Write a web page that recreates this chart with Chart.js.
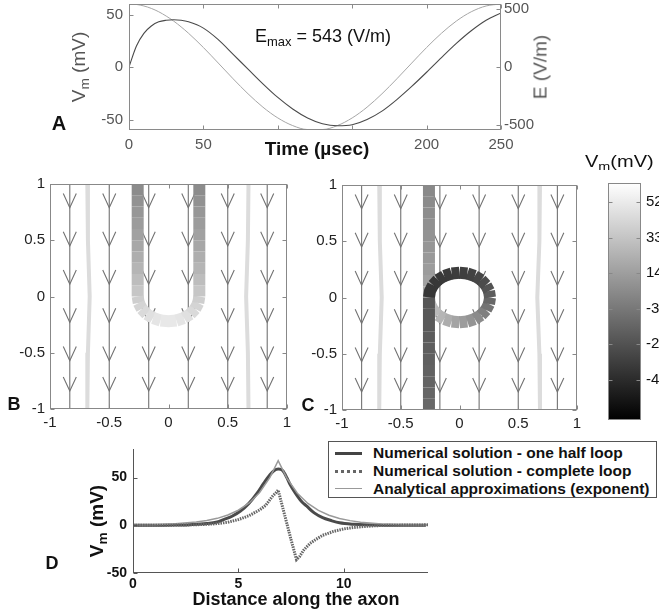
<!DOCTYPE html>
<html><head><meta charset="utf-8">
<script src="https://cdn.jsdelivr.net/npm/chart.js@4.4.1/dist/chart.umd.min.js"></script>
<style>
html,body{margin:0;padding:0;width:659px;height:614px;overflow:hidden;background:#fff;font-family:"Liberation Sans",Arial,Helvetica,sans-serif;}
canvas{position:absolute;}
.t{position:absolute;white-space:nowrap;line-height:1;color:#111;}
.c{transform:translate(-50%,-50%);}
.r{transform:translate(-50%,-50%) rotate(-90deg);}
.b{font-weight:bold;}
.sub{font-size:0.72em;vertical-align:-0.3em;}
#legend{position:absolute;left:328px;top:441px;width:327px;height:55px;border:1px solid #555;background:#fff;}
.lrow{position:absolute;left:0;width:100%;height:18px;}
.lsam{position:absolute;left:6px;width:27px;top:50%;}
.ltxt{position:absolute;left:44px;top:50%;transform:translateY(-50%);font-weight:bold;font-size:15.5px;white-space:nowrap;color:#111;}
</style></head><body>
<canvas id="cA" width="659" height="185" style="left:0;top:-20px"></canvas>
<canvas id="cB" width="300" height="290" style="left:0;top:150px"></canvas>
<canvas id="cC" width="300" height="290" style="left:300px;top:150px"></canvas>
<canvas id="cCB" width="160" height="290" style="left:560px;top:150px"></canvas>
<canvas id="cD" width="420" height="184" style="left:40px;top:430px"></canvas>

<div class="t c b" style="left:59px;top:123px;font-size:20px">A</div>
<div class="t r" style="left:80px;top:67px;font-size:19px;color:#555">V<span class="sub">m</span> (mV)</div>
<div class="t r" style="left:540px;top:67px;font-size:19px;color:#555">E (V/m)</div>
<div class="t" style="left:255px;top:27px;font-size:18px">E<span class="sub">max</span> = 543 (V/m)</div>
<div class="t c b" style="left:317px;top:148px;font-size:19px">Time (µsec)</div>
<div class="t" style="left:585px;top:154px;font-size:16px;transform:scaleX(1.25);transform-origin:left center">V<span class="sub">m</span>(mV)</div>
<div class="t c b" style="left:14px;top:404px;font-size:18px">B</div>
<div class="t c b" style="left:308px;top:405px;font-size:18px">C</div>
<div class="t c b" style="left:52px;top:563px;font-size:18px">D</div>
<div class="t r b" style="left:98px;top:521px;font-size:19px">V<span class="sub">m</span> (mV)</div>
<div class="t c b" style="left:296px;top:599px;font-size:18px">Distance along the axon</div>

<div id="legend">
  <div class="lrow" style="top:2px"><div class="lsam" style="border-top:3px solid #444;margin-top:-1.5px"></div><div class="ltxt">Numerical solution - one half loop</div></div>
  <div class="lrow" style="top:20px"><div class="lsam" style="border-top:3px dotted #666;margin-top:-1.5px"></div><div class="ltxt">Numerical solution - complete loop</div></div>
  <div class="lrow" style="top:38px"><div class="lsam" style="border-top:1.5px solid #999;margin-top:-0.75px"></div><div class="ltxt">Analytical approximations (exponent)</div></div>
</div>

<script>
// ---------------- Panel A data ----------------
const timeA   = [0,5,10,15,20,25,30,35,40,50,60,70,80,90,100,110,120,130,140,150,160,170,180,190,200,210,220,230,240,250];
const vmA     = [0,20,32,39,43,44.5,45,44.5,43,37,26,12,-2,-16,-29,-40,-48.5,-54,-56,-55,-50,-42,-31,-18.5,-5,9,22.5,34.5,44.5,51.5];
const eFieldA = [543,539,526,505,476,439,396,346,291,168,34,-102,-231,-346,-439,-505,-539,-539,-505,-439,-346,-231,-102,34,168,291,396,476,526,543];
const aXTicks = [0,50,100,150,200,250];
const aXHiddenLabels = [100,150];
const aVmTicks = [-50,0,50];
const aETicks = [-500,0,500];
const aVmRange = [-60,60];
const aERange = [-543,543];

// ---------------- Panels B / C data ----------------
const bcTicks = [-1,-0.5,0,0.5,1];
const arrowX = [-0.833,-0.5,-0.167,0.167,0.5,0.833];
const arrowTipY = [0.79,0.45,0.11,-0.23,-0.57,-0.84];
const contourY = [1,0.5,0,-0.5,-1];
const bContourLX = [-0.685,-0.68,-0.665,-0.68,-0.685];
const bContourRX = [0.675,0.67,0.655,0.67,0.675];
const cContourLX = [-0.683,-0.678,-0.662,-0.678,-0.683];
const cContourRX = [0.685,0.68,0.662,0.68,0.685];

// B: half loop (U) path and membrane potential along it
const bPathX = [-0.26,-0.26,-0.26,-0.26,-0.26,-0.26,-0.26,-0.26,-0.26,-0.26,-0.26,-0.251,-0.225,-0.184,-0.13,-0.067,0,0.067,0.13,0.184,0.225,0.251,0.26,0.26,0.26,0.26,0.26,0.26,0.26,0.26,0.26,0.26,0.26];
const bPathY = [1,0.9,0.8,0.7,0.6,0.5,0.4,0.3,0.2,0.1,0,-0.057,-0.11,-0.156,-0.191,-0.213,-0.22,-0.213,-0.191,-0.156,-0.11,-0.057,0,0.1,0.2,0.3,0.4,0.5,0.6,0.7,0.8,0.9,1];
const bPathVm = [5,7.5,10,12.5,15,18,21,24.5,28,32,36.5,40,43,46,48.5,50.5,51.5,50.5,48.5,46,43,40,36.5,32,28,24.5,21,18,15,12.5,10,7.5,5];

// C: complete loop path pieces
const cUpperX = [-0.26,-0.26,-0.26,-0.26,-0.26,-0.26,-0.26,-0.26,-0.26,-0.26,-0.26];
const cUpperY = [1,0.9,0.8,0.7,0.6,0.5,0.4,0.3,0.2,0.1,0];
const cUpperVm = [4,5,6,7,8.5,10,11.5,13,15,18,22];
const cLoopX = [-0.26,-0.251,-0.225,-0.184,-0.13,-0.067,0,0.067,0.13,0.184,0.225,0.251,0.26,0.251,0.225,0.184,0.13,0.067,0,-0.067,-0.13,-0.184,-0.225,-0.251,-0.26];
const cLoopY = [0,-0.057,-0.11,-0.156,-0.191,-0.213,-0.22,-0.213,-0.191,-0.156,-0.11,-0.057,0,0.057,0.11,0.156,0.191,0.213,0.22,0.213,0.191,0.156,0.11,0.057,0];
const cLoopVm = [33,31,29.5,28,24,20,16,12,8,3,-3,-9,-15,-20,-24,-27,-29.5,-31,-32.5,-33.5,-34.5,-35,-35.5,-35.5,-35.5];
const cLowerX = [-0.26,-0.26,-0.26,-0.26,-0.26,-0.26,-0.26,-0.26,-0.26,-0.26,-0.26];
const cLowerY = [0,-0.1,-0.2,-0.3,-0.4,-0.5,-0.6,-0.7,-0.8,-0.9,-1];
const cLowerVm = [-21,-20,-19,-18,-17,-16,-15,-14,-13,-12,-11];

// Colorbar
const cbLimits = [-62.6,62.4];
const cbTicks = [-41.5,-22.7,-3.9,14.8,33.6,52.4];

// ---------------- Panel D data ----------------
const dDistHalf = [0,1,2,2.7,3.5,4,4.3,4.7,5.1,5.5,5.9,6.2,6.5,6.7,6.9,7.1,7.3,7.45,7.7,8,8.25,8.6,9,9.4,9.8,10.5,11,12,13,13.9];
const dHalf     = [0,0,0.3,0.7,1.8,3.5,6,9.5,15,23,34,44,53,57.5,59,57.5,50,43,34,25,20,13,8,5,2.6,1,0.5,0.1,0,0];
const dDistFull = [0,1,2,3,3.5,4,4.5,5,5.5,6,6.3,6.6,6.8,6.89,7.1,7.3,7.5,7.76,7.9,8.1,8.4,8.7,9,9.5,10,10.5,11,11.5,12,13,14];
const dFull     = [0,0,0.2,0.6,1,1.8,3.2,6,10,16,21,30,34.5,37,19,2,-15,-36,-33,-26,-19,-14.5,-10.5,-6.5,-3.8,-2.2,-1.2,-0.5,0,0.3,0.5];
const dDistAna  = [0,1,2,3,3.5,4,4.5,5,5.5,6,6.5,6.89,7.3,7.8,8.3,8.8,9.3,9.8,10.3,10.8,11.8,12.8,14];
const dAna      = [0.3,0.7,1.6,3.4,5,7.3,10.8,15.8,23.2,34.1,50.2,67.7,49.4,33.6,22.9,15.6,10.6,7.2,4.9,3.3,1.5,0.7,0.3];
const dXTicks = [0,5,10];
const dYTicks = [-50,0,50];

// ---------------- helpers ----------------
Chart.defaults.font.family = '"Liberation Sans", Arial, Helvetica, sans-serif';
Chart.defaults.color = '#222';
const zip = (xs, ys) => xs.map((x, i) => ({ x: x, y: ys[i] }));
const fixTicks = vals => s => { s.ticks = vals.map(v => ({ value: v })); };
const fixW = w => s => { s.width = w; };
const fixH = h => s => { s.height = h; };
const gray = v => {
  let g = (v - cbLimits[0]) / (cbLimits[1] - cbLimits[0]);
  g = Math.max(0, Math.min(1, g));
  const c = Math.round(g * 255);
  return 'rgb(' + c + ',' + c + ',' + c + ')';
};

const decoCfg = {};
Chart.register({
  id: 'deco',
  afterDraw(chart) {
    const o = decoCfg[chart.canvas.id];
    if (!o) return;
    const ctx = chart.ctx, a = chart.chartArea;
    const L = Math.round(a.left) + 0.5, R = Math.round(a.right) - 0.5;
    const T = Math.round(a.top) + 0.5, B = Math.round(a.bottom) - 0.5;
    ctx.save();
    ctx.strokeStyle = o.color; ctx.lineWidth = 1;
    ctx.beginPath();
    o.edges.forEach(e => {
      if (e === 'left') { ctx.moveTo(L, T - 0.5); ctx.lineTo(L, B + 0.5); }
      if (e === 'right') { ctx.moveTo(R, T - 0.5); ctx.lineTo(R, B + 0.5); }
      if (e === 'top') { ctx.moveTo(L - 0.5, T); ctx.lineTo(R + 0.5, T); }
      if (e === 'bottom') { ctx.moveTo(L - 0.5, B); ctx.lineTo(R + 0.5, B); }
    });
    o.ticks.forEach(t => {
      const sc = chart.scales[t.id];
      sc.ticks.forEach(tk => {
        const p = Math.round(sc.getPixelForValue(tk.value)) + 0.5;
        t.sides.forEach(side => {
          if (side === 'left') { ctx.moveTo(L, p); ctx.lineTo(L + o.len, p); }
          if (side === 'right') { ctx.moveTo(R, p); ctx.lineTo(R - o.len, p); }
          if (side === 'bottom') { ctx.moveTo(p, B); ctx.lineTo(p, B - o.len); }
          if (side === 'top') { ctx.moveTo(p, T); ctx.lineTo(p, T + o.len); }
        });
      });
    });
    ctx.stroke();
    ctx.restore();
  }
});

const baseOpts = (padding) => ({
  responsive: false, animation: false, events: [],
  layout: { padding: padding },
  plugins: { legend: { display: false }, tooltip: { enabled: false } }
});
const noGrid = { display: false, drawTicks: false };

// ---------------- Panel A ----------------
decoCfg.cA = { color: '#8a8a8a', len: 4, edges: ['left','right','top','bottom'],
  ticks: [{ id: 'x', sides: ['bottom','top'] }, { id: 'y', sides: ['left'] }, { id: 'y2', sides: ['right'] }] };
new Chart(document.getElementById('cA'), {
  type: 'scatter',
  data: { datasets: [
    { data: zip(timeA, vmA), yAxisID: 'y', showLine: true, pointRadius: 0, borderColor: '#4a4a4a', borderWidth: 1.1, cubicInterpolationMode: 'monotone' },
    { data: zip(timeA, eFieldA), yAxisID: 'y2', showLine: true, pointRadius: 0, borderColor: '#a6a6a6', borderWidth: 1, cubicInterpolationMode: 'monotone' }
  ]},
  options: Object.assign(baseOpts({ top: 24, left: 0, right: 0, bottom: 0 }), {
    scales: {
      x: { type: 'linear', min: 0, max: 250, afterBuildTicks: fixTicks(aXTicks), afterFit: fixH(35),
           grid: noGrid, border: { display: false },
           ticks: { autoSkip: false, maxRotation: 0, padding: 6, color: '#555', font: { size: 15 },
                    callback: v => aXHiddenLabels.includes(v) ? '' : String(v) } },
      y: { type: 'linear', position: 'left', min: aVmRange[0], max: aVmRange[1], afterBuildTicks: fixTicks(aVmTicks), afterFit: fixW(129),
           grid: noGrid, border: { display: false },
           ticks: { padding: 6, color: '#555', font: { size: 15 }, callback: v => String(v) } },
      y2: { type: 'linear', position: 'right', min: aERange[0], max: aERange[1], afterBuildTicks: fixTicks(aETicks), afterFit: fixW(158),
           grid: noGrid, border: { display: false },
           ticks: { padding: 3, color: '#555', font: { size: 15 }, callback: v => String(v) } }
    }
  })
});

// ---------------- Panels B / C ----------------
const HW = 0.055, HL = 0.125;
function fieldDatasets(contL, contR) {
  const shafts = arrowX.flatMap(x => [{ x: x, y: 1 }, { x: x, y: -1 }, { x: x, y: NaN }]);
  const heads = arrowX.flatMap(x => arrowTipY.flatMap(t => [{ x: x - HW, y: t + HL }, { x: x, y: t }, { x: x + HW, y: t + HL }, { x: x, y: NaN }]));
  const line = (data, color, w, order) => ({ data: data, showLine: true, pointRadius: 0, borderColor: color, borderWidth: w, order: order, spanGaps: false });
  return [
    line(zip(contL, contourY), '#dcdcdc', 4, 50),
    line(zip(contR, contourY), '#dcdcdc', 4, 50),
    line(shafts, '#727272', 1.1, 40),
    line(heads, '#727272', 1.1, 30)
  ];
}
function band(xs, ys, vs, order) {
  return { data: zip(xs, ys), showLine: true, pointRadius: 0, borderWidth: 12, borderCapStyle: 'butt', borderJoinStyle: 'miter',
    borderColor: gray(vs[0]), order: order,
    segment: { borderColor: c => gray((vs[c.p0DataIndex] + vs[c.p1DataIndex]) / 2) } };
}
function bcScales(yW, xH) {
  return {
    x: { type: 'linear', min: -1, max: 1, afterBuildTicks: fixTicks(bcTicks), afterFit: fixH(xH), grid: noGrid, border: { display: false },
         ticks: { autoSkip: false, maxRotation: 0, padding: 5, color: '#222', font: { size: 15 }, callback: v => String(v) } },
    y: { type: 'linear', min: -1, max: 1, afterBuildTicks: fixTicks(bcTicks), afterFit: fixW(yW), grid: noGrid, border: { display: false },
         ticks: { padding: 5, color: '#222', font: { size: 15 }, callback: v => String(v) } }
  };
}
const bcDeco = { color: '#888', len: 4, edges: ['left','right','top','bottom'],
  ticks: [{ id: 'x', sides: ['bottom','top'] }, { id: 'y', sides: ['left','right'] }] };
decoCfg.cB = bcDeco; decoCfg.cC = bcDeco;

new Chart(document.getElementById('cB'), {
  type: 'scatter',
  data: { datasets: fieldDatasets(bContourLX, bContourRX).concat([band(bPathX, bPathY, bPathVm, 0)]) },
  options: Object.assign(baseOpts({ top: 34, left: 0, right: 13, bottom: 0 }), { scales: bcScales(50, 31) })
});
new Chart(document.getElementById('cC'), {
  type: 'scatter',
  data: { datasets: fieldDatasets(cContourLX, cContourRX).concat([
    band(cUpperX, cUpperY, cUpperVm, 3),
    band(cLoopX, cLoopY, cLoopVm, 2),
    band(cLowerX, cLowerY, cLowerVm, 1)
  ]) },
  options: Object.assign(baseOpts({ top: 35, left: 0, right: 23, bottom: 0 }), { scales: bcScales(42, 30) })
});

// ---------------- Colorbar ----------------
decoCfg.cCB = { color: '#888', len: 4, edges: ['left','right','top','bottom'], ticks: [{ id: 'y', sides: ['left','right'] }] };
new Chart(document.getElementById('cCB'), {
  type: 'bar',
  data: { labels: [''], datasets: [{ data: [[cbLimits[0], cbLimits[1]]], barPercentage: 1, categoryPercentage: 1, borderWidth: 0,
    backgroundColor: c => {
      const a = c.chart.chartArea; if (!a) return '#888';
      const g = c.chart.ctx.createLinearGradient(0, a.bottom, 0, a.top);
      g.addColorStop(0, gray(cbLimits[0])); g.addColorStop(1, gray(cbLimits[1]));
      return g;
    } }] },
  options: Object.assign(baseOpts({ top: 33, left: 48, right: 0, bottom: 20 }), {
    scales: {
      x: { display: false },
      y: { type: 'linear', position: 'right', min: cbLimits[0], max: cbLimits[1], afterBuildTicks: fixTicks(cbTicks), afterFit: fixW(79),
           grid: noGrid, border: { display: false },
           ticks: { padding: 5, color: '#111', font: { size: 15 }, callback: v => v.toFixed(1) } }
    }
  })
});

// ---------------- Panel D ----------------
decoCfg.cD = { color: '#555', len: 4, edges: ['left','bottom'], ticks: [{ id: 'x', sides: ['bottom'] }, { id: 'y', sides: ['left'] }] };
new Chart(document.getElementById('cD'), {
  type: 'scatter',
  data: { datasets: [
    { data: zip(dDistFull, dFull), showLine: true, pointRadius: 0, borderColor: '#666', borderWidth: 3, borderDash: [1.5, 1], order: 0 },
    { data: zip(dDistAna, dAna), showLine: true, pointRadius: 0, borderColor: '#9a9a9a', borderWidth: 1.5, order: 1 },
    { data: zip(dDistHalf, dHalf), showLine: true, pointRadius: 0, borderColor: '#4a4a4a', borderWidth: 3, cubicInterpolationMode: 'monotone', order: 2 }
  ]},
  options: Object.assign(baseOpts({ top: 19, left: 0, right: 32, bottom: 0 }), {
    scales: {
      x: { type: 'linear', min: 0, max: 14, afterBuildTicks: fixTicks(dXTicks), afterFit: fixH(41), grid: noGrid, border: { display: false },
           ticks: { autoSkip: false, maxRotation: 0, padding: 3, color: '#111', font: { size: 14, weight: 'bold' }, callback: v => String(v) } },
      y: { type: 'linear', min: -50, max: 80, afterBuildTicks: fixTicks(dYTicks), afterFit: fixW(93), grid: noGrid, border: { display: false },
           ticks: { padding: 6, color: '#111', font: { size: 14, weight: 'bold' }, callback: v => String(v) } }
    }
  })
});
</script>
</body></html>
